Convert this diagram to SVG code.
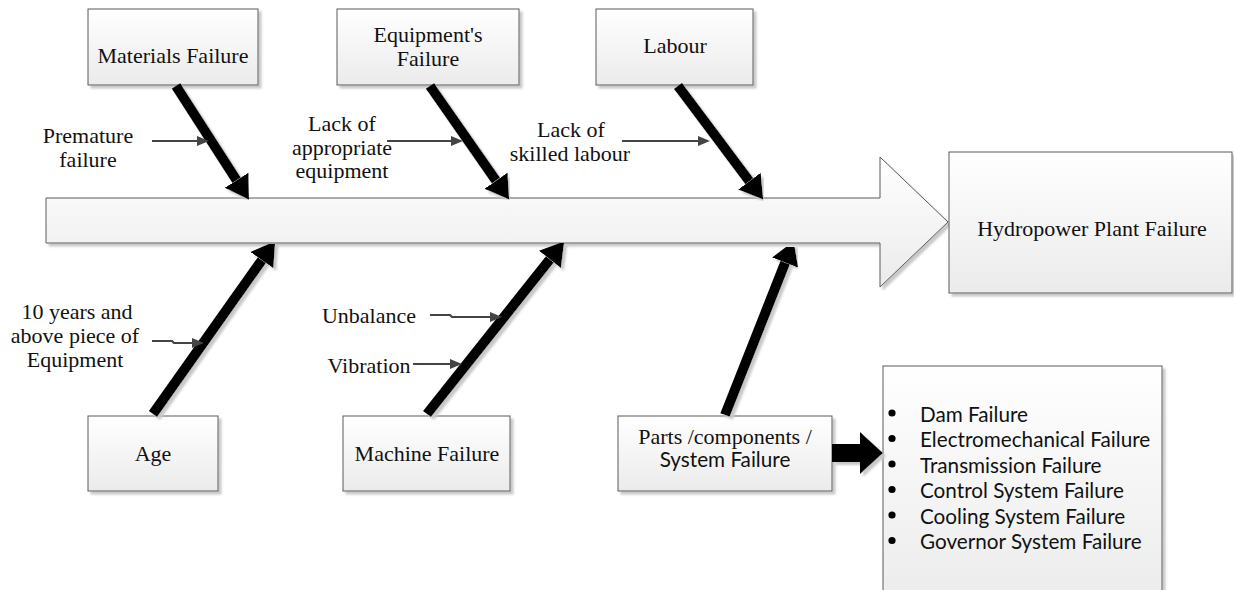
<svg xmlns="http://www.w3.org/2000/svg" width="1234" height="590" viewBox="0 0 1234 590">
  <style>
    .box { fill: url(#boxFill); stroke: #5a5a5a; stroke-width: 1; filter: url(#shadow); }
    .serif { font-family: "Liberation Serif", "Times New Roman", serif; font-size: 22px; fill: #111; text-anchor: middle; }
    .sans { font-family: Lato, "Open Sans", sans-serif; font-size: 20.7px; fill: #111; }
    .bone { stroke: #000; stroke-width: 10; fill: none; marker-end: url(#bigHead); filter: url(#shadow); }
    .twig { stroke: #444; stroke-width: 2.2; fill: none; marker-end: url(#smallHead); }
  </style>
  <defs>
    <linearGradient id="boxFill" x1="0" y1="0" x2="0" y2="1">
      <stop offset="0" stop-color="#ffffff"/>
      <stop offset="1" stop-color="#ebebeb"/>
    </linearGradient>
    <filter id="shadow" x="-10%" y="-10%" width="130%" height="130%">
      <feOffset in="SourceAlpha" dx="3" dy="3" result="off"/>
      <feGaussianBlur in="off" stdDeviation="1" result="blur"/>
      <feFlood flood-color="#c8c8c8"/>
      <feComposite in2="blur" operator="in" result="shade"/>
      <feMerge>
        <feMergeNode in="shade"/>
        <feMergeNode in="SourceGraphic"/>
      </feMerge>
    </filter>
    <marker id="bigHead" markerUnits="userSpaceOnUse" markerWidth="26" markerHeight="30" refX="0" refY="14" orient="auto">
      <path d="M0,0 L23,14 L0,28 Z" fill="#000"/>
    </marker>
    <marker id="smallHead" markerUnits="userSpaceOnUse" markerWidth="14" markerHeight="12" refX="0" refY="5" orient="auto">
      <path d="M0,0 L12,5 L0,10 Z" fill="#444"/>
    </marker>
  </defs>

  <!-- main spine arrow -->
  <g id="spine">
    <polygon class="box" points="46,198 880,198 880,157 948,222 880,287 880,243 46,243"/>
  </g>

  <!-- effect -->
  <g id="effect">
    <rect class="box" x="949" y="152" width="283" height="141"/>
    <text class="serif" x="1092" y="236">Hydropower Plant Failure</text>
  </g>

  <!-- cause categories -->
  <g id="materials">
    <rect class="box" x="88" y="9" width="170" height="76"/>
    <text class="serif" x="173" y="63">Materials Failure</text>
  </g>
  <g id="equipment">
    <rect class="box" x="337" y="9" width="182" height="76"/>
    <text class="serif" x="428" y="42">Equipment's</text>
    <text class="serif" x="428" y="66">Failure</text>
  </g>
  <g id="labour">
    <rect class="box" x="596" y="9" width="157" height="76"/>
    <text class="serif" x="675" y="53">Labour</text>
  </g>
  <g id="age">
    <rect class="box" x="88" y="416" width="130" height="75"/>
    <text class="serif" x="153" y="461">Age</text>
  </g>
  <g id="machine">
    <rect class="box" x="343" y="416" width="167" height="75"/>
    <text class="serif" x="427" y="461">Machine Failure</text>
  </g>
  <g id="parts">
    <rect class="box" x="618" y="416" width="214" height="75"/>
    <text class="serif" x="725" y="444">Parts /components /</text>
    <text class="sans" x="725" y="467" text-anchor="middle">System Failure</text>
  </g>
  <g id="parts-list">
    <rect class="box" x="883" y="366" width="279" height="240"/>
    <g fill="#000">
      <circle cx="892" cy="413" r="3.6"/>
      <circle cx="892" cy="438.5" r="3.6"/>
      <circle cx="892" cy="464" r="3.6"/>
      <circle cx="892" cy="489.5" r="3.6"/>
      <circle cx="892" cy="515" r="3.6"/>
      <circle cx="892" cy="540.5" r="3.6"/>
    </g>
    <text class="sans" x="920" y="421.5">Dam Failure</text>
    <text class="sans" x="920" y="447">Electromechanical Failure</text>
    <text class="sans" x="920" y="472.5">Transmission Failure</text>
    <text class="sans" x="920" y="498">Control System Failure</text>
    <text class="sans" x="920" y="523.5">Cooling System Failure</text>
    <text class="sans" x="920" y="549">Governor System Failure</text>
  </g>

  <!-- sub-cause labels -->
  <g id="premature">
    <text class="serif" x="88" y="143">Premature</text>
    <text class="serif" x="88" y="167">failure</text>
  </g>
  <g id="lack-equipment">
    <text class="serif" x="342" y="131">Lack of</text>
    <text class="serif" x="342" y="155">appropriate</text>
    <text class="serif" x="342" y="178">equipment</text>
  </g>
  <g id="lack-skill">
    <text class="serif" x="571" y="137">Lack of</text>
    <text class="serif" x="570" y="161">skilled labour</text>
  </g>
  <g id="old-equipment">
    <text class="serif" x="77" y="319">10 years and</text>
    <text class="serif" x="75" y="343">above piece of</text>
    <text class="serif" x="75" y="367">Equipment</text>
  </g>
  <g id="unbalance">
    <text class="serif" x="369" y="323">Unbalance</text>
  </g>
  <g id="vibration">
    <text class="serif" x="369" y="373">Vibration</text>
  </g>

  <!-- connectors -->
  <g id="connectors">
    <line class="bone" x1="176" y1="86" x2="236.6" y2="180.3"/>
    <line class="bone" x1="430" y1="86" x2="496" y2="180.7"/>
    <line class="bone" x1="678" y1="86" x2="749.4" y2="181.2"/>
    <line class="bone" x1="153" y1="414" x2="261.9" y2="260.1"/>
    <line class="bone" x1="427" y1="414" x2="549.9" y2="259.4"/>
    <line class="bone" x1="725" y1="415" x2="785.2" y2="262.6"/>
    <path d="M832,444 L860,444 L860,432 L883,453 L860,474 L860,462 L832,462 Z" fill="#000" filter="url(#shadow)"/>

    <line class="twig" x1="152" y1="141" x2="197" y2="141"/>
    <line class="twig" x1="387" y1="141" x2="451" y2="141"/>
    <line class="twig" x1="622" y1="141" x2="698" y2="141"/>
    <polyline class="twig" points="152,341 172,341 174,343 192,343"/>
    <polyline class="twig" points="430,315 450,315 452,317 490,317"/>
    <line class="twig" x1="413" y1="364" x2="450" y2="364"/>
  </g>
</svg>
